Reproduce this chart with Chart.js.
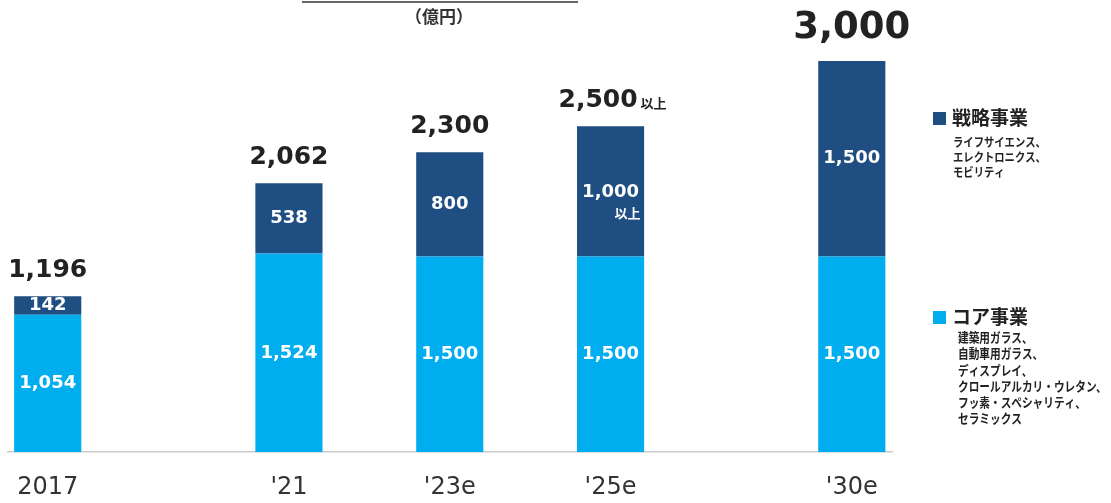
<!DOCTYPE html>
<html>
<head>
<meta charset="utf-8">
<script src="https://cdn.jsdelivr.net/npm/chart.js@4"></script>
<style>
  html, body { margin: 0; padding: 0; background: #ffffff; }
  #wrap { position: relative; width: 1111px; height: 503px; overflow: hidden; }
  #c { position: absolute; left: -4px; top: 0; }
</style>
</head>
<body>
<div id="wrap"><canvas id="c" width="1115" height="503"></canvas></div>
<script>
// ---- data ----
const years = ['2017', "'21", "'23e", "'25e", "'30e"];
const coreValues = [1054, 1524, 1500, 1500, 1500];
const strategicValues = [142, 538, 800, 1000, 1500];
const totals = [1196, 2062, 2300, 2500, 3000];
const totalSuffix = ['', '', '', '以上', ''];
const strategicSuffix = ['', '', '', '以上', ''];
const unitLabel = '（億円）';
const strategicName = '戦略事業';
const strategicDesc = ['ライフサイエンス、', 'エレクトロニクス、', 'モビリティ'];
const coreName = 'コア事業';
const coreDesc = ['建築用ガラス、', '自動車用ガラス、', 'ディスプレイ、', 'クロールアルカリ・ウレタン、', 'フッ素・スペシャリティ、', 'セラミックス'];

// ---- layout (slot of each year on an 11-slot category axis) ----
const SLOTS = [0, 3, 5, 7, 10];
const NSLOT = 11;
const SHIFT = 4; // canvas is offset 4px to the left on the page
const labels = new Array(NSLOT).fill('');
const coreData = new Array(NSLOT).fill(null);
const stratData = new Array(NSLOT).fill(null);
SLOTS.forEach((s, i) => { labels[s] = years[i]; coreData[s] = coreValues[i]; stratData[s] = strategicValues[i]; });

const CORE = '#00AEEF';
const STRAT = '#1F4E82';
const fmt = v => v.toLocaleString('en-US');
const NUMFONT = '"DejaVu Sans", Verdana, sans-serif';
const JPFONT = '"Noto Sans CJK JP", "Noto Sans", sans-serif';

const overlay = {
  id: 'overlay',
  afterDatasetsDraw(chart) {
    const ctx = chart.ctx;
    const x = chart.scales.x, y = chart.scales.y;
    ctx.save();
    ctx.textBaseline = 'middle';
    SLOTS.forEach((s, i) => {
      const cx = x.getPixelForValue(s);
      const y0 = y.getPixelForValue(0);
      const y1 = y.getPixelForValue(coreValues[i]);
      const y2 = y.getPixelForValue(coreValues[i] + strategicValues[i]);
      ctx.fillStyle = '#ffffff';
      ctx.textAlign = 'center';
      ctx.font = 'bold 18px ' + NUMFONT;
      ctx.fillText(fmt(coreValues[i]), cx, (y0 + y1) / 2);
      if (strategicSuffix[i]) {
        ctx.fillText(fmt(strategicValues[i]), cx, (y1 + y2) / 2 + 1);
        ctx.font = 'bold 13px ' + JPFONT;
        ctx.textAlign = 'right';
        ctx.fillText(strategicSuffix[i], cx + 30, (y1 + y2) / 2 + 22);
      } else {
        ctx.fillText(fmt(strategicValues[i]), cx, (y1 + y2) / 2);
      }
      // totals
      const big = i === SLOTS.length - 1;
      ctx.fillStyle = '#222222';
      ctx.font = 'bold ' + (big ? 37 : 25) + 'px ' + NUMFONT;
      const ty = y.getPixelForValue(totals[i]) - (big ? 33 : 26);
      const txt = fmt(totals[i]);
      if (totalSuffix[i]) {
        const w = ctx.measureText(txt).width;
        ctx.font = 'bold 13px ' + JPFONT;
        const w2 = ctx.measureText(totalSuffix[i]).width + 3;
        const start = cx - (w + w2) / 2 + 2;
        ctx.textAlign = 'left';
        ctx.font = 'bold 25px ' + NUMFONT;
        ctx.fillText(txt, start, ty);
        ctx.font = 'bold 13px ' + JPFONT;
        ctx.fillText(totalSuffix[i], start + w + 3, ty + 3);
      } else {
        ctx.textAlign = 'center';
        ctx.fillText(txt, cx, ty);
      }
    });
    ctx.translate(SHIFT, 0);
    // header line and unit
    ctx.strokeStyle = '#333333';
    ctx.lineWidth = 1.5;
    ctx.beginPath(); ctx.moveTo(302, 2); ctx.lineTo(578, 2); ctx.stroke();
    ctx.fillStyle = '#333333';
    ctx.textAlign = 'center';
    ctx.font = 'bold 17px ' + JPFONT;
    ctx.fillText(unitLabel, 439, 17);
    // legend
    const drawLegend = (color, name, desc, top, dx, fs, sx, first, step) => {
      ctx.fillStyle = color;
      ctx.fillRect(933, top - 6, 13, 13);
      ctx.fillStyle = '#222222';
      ctx.textAlign = 'left';
      ctx.font = 'bold 19px ' + JPFONT;
      ctx.fillText(name, 952, top);
      ctx.font = 'bold ' + fs + 'px ' + JPFONT;
      desc.forEach((d, k) => {
        ctx.save();
        ctx.translate(dx, top + first + k * step);
        ctx.scale(sx, 1);
        ctx.fillText(d, 0, 0);
        ctx.restore();
      });
    };
    drawLegend(STRAT, strategicName, strategicDesc, 118, 953, 12, 0.86, 24, 15);
    drawLegend(CORE, coreName, coreDesc, 317, 958, 13, 0.82, 20, 16.3);
    ctx.restore();
  }
};

new Chart(document.getElementById('c'), {
  type: 'bar',
  data: {
    labels: labels,
    datasets: [
      { label: coreName, data: coreData, backgroundColor: CORE, borderWidth: 0, categoryPercentage: 1, barPercentage: 0.835 },
      { label: strategicName, data: stratData, backgroundColor: STRAT, borderWidth: 0, categoryPercentage: 1, barPercentage: 0.835 }
    ]
  },
  options: {
    responsive: false,
    animation: false,
    layout: { padding: { left: 4, right: 219, top: 61, bottom: -20 } },
    plugins: { legend: { display: false }, tooltip: { enabled: false } },
    scales: {
      x: {
        stacked: true,
        grid: { display: false, drawTicks: false },
        border: { display: true, color: '#cccccc', width: 1.5 },
        ticks: { color: '#333333', font: { family: NUMFONT, size: 24 }, padding: 21, maxRotation: 0, autoSkip: false }
      },
      y: {
        stacked: true, display: false, min: 0, max: 3000
      }
    }
  },
  plugins: [overlay]
});
</script>
</body>
</html>
